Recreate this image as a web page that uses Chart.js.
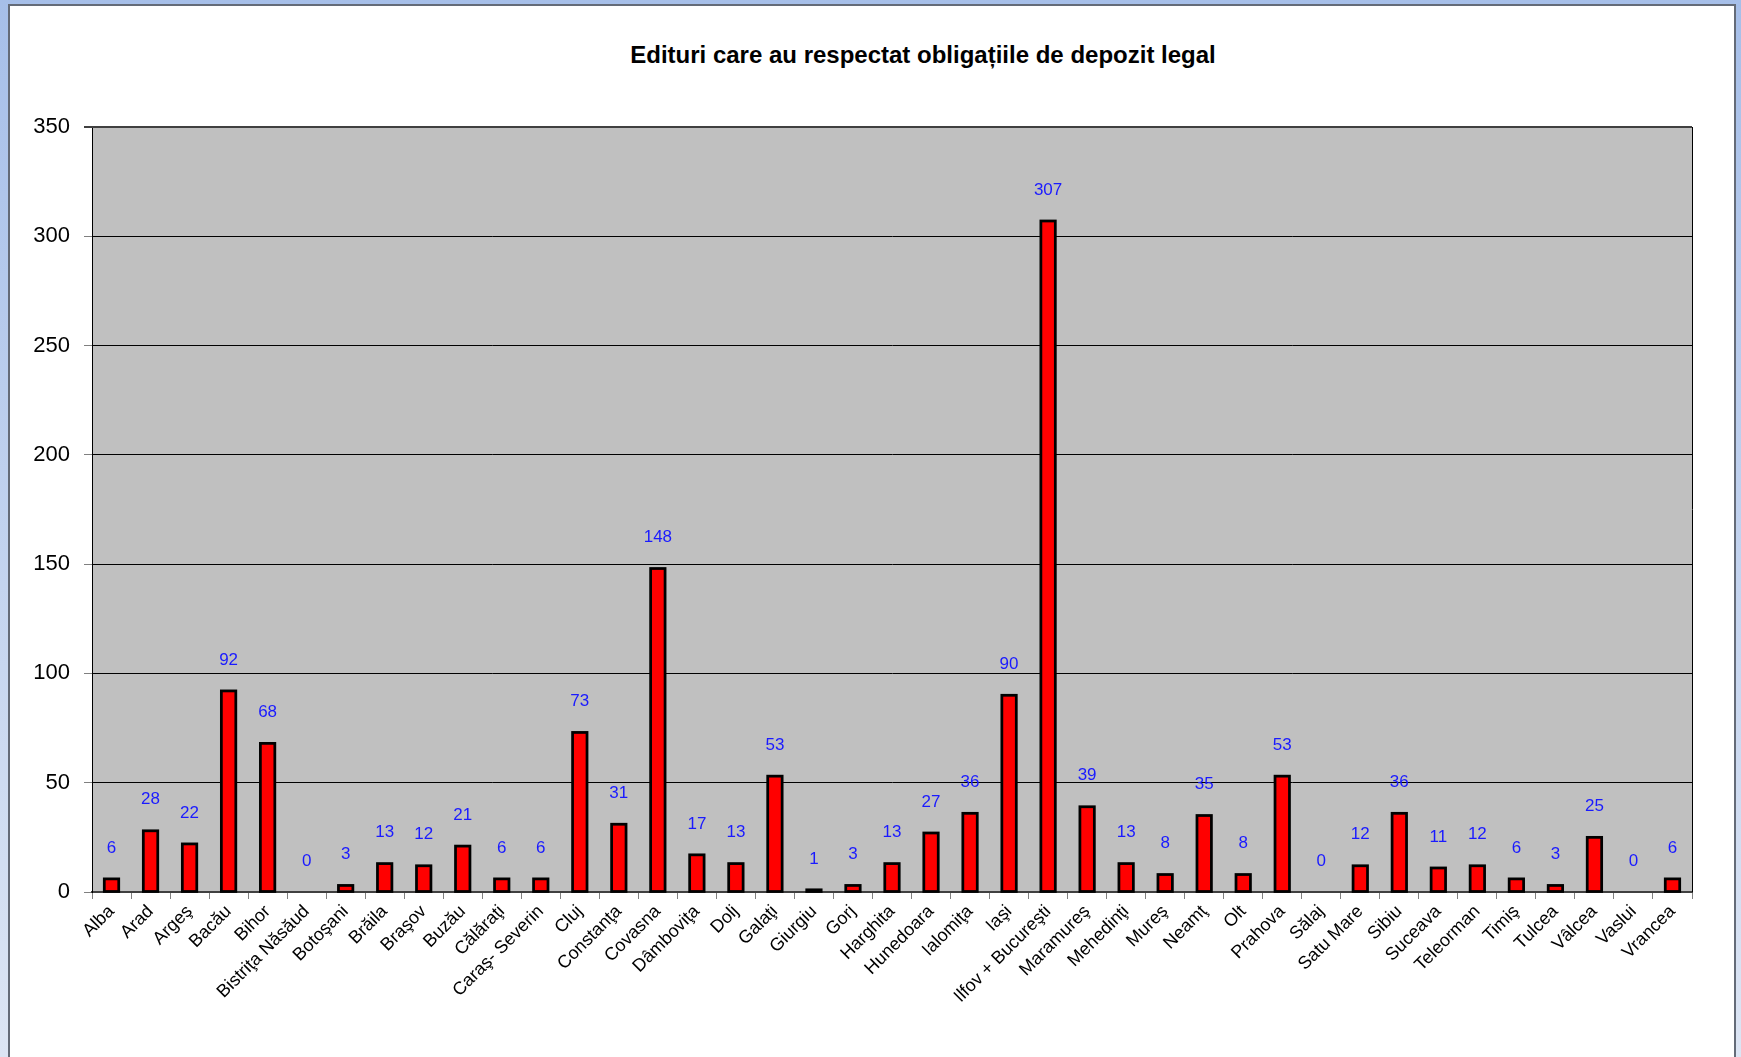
<!DOCTYPE html>
<html lang="ro">
<head>
<meta charset="utf-8">
<title>Edituri care au respectat obligațiile de depozit legal</title>
<script src="https://cdn.jsdelivr.net/npm/chart.js@4.4.1/dist/chart.umd.min.js"></script>
<style>
    html, body {
        margin: 0;
        padding: 0;
        width: 1741px;
        height: 1057px;
        overflow: hidden;
        background: linear-gradient(to bottom, #a6bfe9, #dce5f4);
        font-family: "Liberation Sans", Arial, sans-serif;
    }
    #panel {
        position: absolute;
        left: 8px;
        top: 4px;
        width: 1728px;
        height: 1080px;
        background: #ffffff;
        border: 2px solid #646b78;
        box-sizing: border-box;
    }
    #title {
        position: absolute;
        left: 523px;
        top: 41px;
        width: 800px;
        text-align: center;
        font-size: 24px;
        font-weight: bold;
        color: #000;
    }
    #chart {
        position: absolute;
        left: 0;
        top: 0;
    }
</style>
</head>
<body>
<div id="panel"></div>
<div id="title">Edituri care au respectat obligațiile de depozit legal</div>
<canvas id="chart" width="1741" height="1057"></canvas>
<script>
const judete = [
    "Alba", "Arad", "Argeş", "Bacău", "Bihor", "Bistriţa Năsăud", "Botoşani",
    "Brăila", "Braşov", "Buzău", "Călăraţi", "Caraş- Severin", "Cluj",
    "Constanţa", "Covasna", "Dâmboviţa", "Dolj", "Galaţi", "Giurgiu", "Gorj",
    "Harghita", "Hunedoara", "Ialomiţa", "Iaşi", "Ilfov + Bucureşti",
    "Maramureş", "Mehedinţi", "Mureş", "Neamţ", "Olt", "Prahova", "Sălaj",
    "Satu Mare", "Sibiu", "Suceava", "Teleorman", "Timiş", "Tulcea", "Vâlcea",
    "Vaslui", "Vrancea",
];

const edituri = [
    6, 28, 22, 92, 68, 0, 3,
    13, 12, 21, 6, 6, 73,
    31, 148, 17, 13, 53, 1, 3,
    13, 27, 36, 90, 307,
    39, 13, 8, 35, 8, 53, 0,
    12, 36, 11, 12, 6, 3, 25,
    0, 6,
];

const yTicks = [0, 50, 100, 150, 200, 250, 300, 350];

const FONT = "'Liberation Sans', Arial, sans-serif";

// grey plot background + frame
const plotArea = {
    id: "plotArea",
    beforeDraw(chart) {
        const { ctx, chartArea } = chart;
        ctx.save();
        ctx.fillStyle = "#c0c0c0";
        ctx.fillRect(chartArea.left, chartArea.top, chartArea.right - chartArea.left, chartArea.bottom - chartArea.top);
        ctx.restore();
    },
    afterDraw(chart) {
        const { ctx, chartArea } = chart;
        ctx.save();
        ctx.strokeStyle = "#000";
        ctx.lineWidth = 1;
        ctx.beginPath();
        ctx.moveTo(chartArea.right + 0.5, chartArea.top);
        ctx.lineTo(chartArea.right + 0.5, chartArea.bottom);
        ctx.stroke();
        ctx.strokeStyle = "#404040";
        ctx.lineWidth = 2;
        ctx.beginPath();
        ctx.moveTo(chartArea.left - 8, chartArea.top);
        ctx.lineTo(chartArea.right, chartArea.top);
        ctx.stroke();
        ctx.restore();
    },
};

// Excel-style outline centred on the bar edge, then the value above it
const barOutline = {
    id: "barOutline",
    afterDatasetsDraw(chart) {
        const { ctx } = chart;
        const meta = chart.getDatasetMeta(0);
        ctx.save();
        ctx.strokeStyle = "#000";
        ctx.lineWidth = 2.75;
        meta.data.forEach((bar, i) => {
            if (edituri[i] <= 0) return;
            const { x, y, base, width } = bar.getProps(["x", "y", "base", "width"], true);
            ctx.strokeRect(x - width / 2, y, width, base - y);
        });

        ctx.font = `17px ${FONT}`;
        ctx.fillStyle = "#1a1aff";
        ctx.textAlign = "center";
        ctx.textBaseline = "middle";
        meta.data.forEach((bar, i) => {
            ctx.fillText(String(edituri[i]), bar.x, bar.y - 31);
        });
        ctx.restore();
    },
};

new Chart(document.getElementById("chart"), {
    type: "bar",
    data: {
        labels: judete,
        datasets: [
            {
                data: edituri,
                backgroundColor: "#ff0000",
                borderWidth: 0,
                barPercentage: 0.37,
                categoryPercentage: 1,
            },
        ],
    },
    options: {
        responsive: false,
        animation: false,
        layout: {
            padding: { top: 127, right: 49, bottom: 0, left: 0 },
        },
        plugins: {
            legend: { display: false },
            tooltip: { enabled: false },
        },
        scales: {
            x: {
                offset: true,
                grid: {
                    offset: true,
                    drawOnChartArea: false,
                    tickLength: 7,
                    tickColor: "#808080",
                },
                border: { color: "#404040", width: 2 },
                ticks: {
                    autoSkip: false,
                    maxRotation: 45,
                    minRotation: 45,
                    padding: 2,
                    color: "#000",
                    font: { family: FONT, size: 18 },
                },
                afterFit(scale) {
                    scale.height = 165;
                },
            },
            y: {
                min: 0,
                max: 350,
                afterBuildTicks(scale) {
                    scale.ticks = yTicks.map((v) => ({ value: v }));
                },
                grid: {
                    color: "#000",
                    lineWidth: 1,
                    tickLength: 8,
                    tickColor: "#808080",
                },
                border: { color: "#000", width: 1 },
                ticks: {
                    padding: 14,
                    color: "#000",
                    font: { family: FONT, size: 22 },
                },
                afterFit(scale) {
                    scale.width = 92;
                },
            },
        },
    },
    plugins: [plotArea, barOutline],
});
</script>
</body>
</html>
